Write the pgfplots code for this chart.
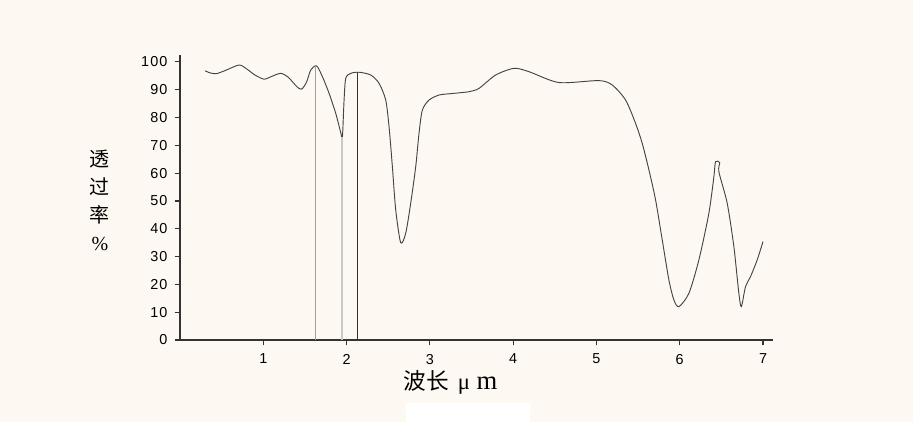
\documentclass[border=0pt]{standalone}
\usepackage{pgfplots}
\pgfplotsset{compat=1.18}
\usepackage{fontspec}
\setmainfont{Liberation Sans}
\newfontfamily\cjk{Noto Sans CJK SC}
\newfontfamily\serif{Liberation Serif}
\definecolor{bg}{HTML}{FDF8F2}
\definecolor{axc}{HTML}{333333}
\definecolor{curve}{HTML}{444444}
\begin{document}
\begin{tikzpicture}
\fill[bg] (0pt,0pt) rectangle (684.75pt,316.5pt);
\useasboundingbox (0pt,0pt) rectangle (684.75pt,316.5pt);
\fill[white] (304.5pt,0pt) rectangle (397.5pt,14.25pt);
\begin{axis}[
  at={(135pt,61.5pt)}, anchor=south west,
  scale only axis, width=444.75pt, height=213.75pt,
  xmin=0, xmax=7.12, ymin=0, ymax=102.5,
  axis lines*=left,
  axis line style={axc, line width=0.8pt},
  tick style={axc, line width=0.8pt},
  tick align=outside, major tick length=4pt,
  xtick={1,...,7}, ytick={0,10,...,100},
  /pgf/number format/assume math mode=true,
  ticklabel style={font=\fontsize{10.8}{12}\selectfont\addfontfeatures{LetterSpace=7}, text=black},
  yticklabel style={xshift=-2pt},
  xticklabel style={yshift=-3pt},
  clip=false,
]
\addplot[curve, line width=0.7pt, smooth, tension=0.45] coordinates {
(0.30,96.8)(0.37,96.0)(0.44,95.8)(0.55,97.0)(0.71,98.9)(0.80,97.5)(0.90,95.3)
(1.01,93.8)(1.10,94.8)(1.21,95.9)(1.30,94.5)(1.40,91.2)(1.46,90.2)(1.52,92.8)
(1.57,97.1)(1.64,98.6)(1.71,94.7)(1.79,88.7)(1.87,81.5)(1.93,74.6)(1.95,73.0)
(1.97,86.3)(1.99,94.1)(2.05,95.9)(2.15,96.3)(2.29,95.3)(2.39,92.3)
(2.47,86.3)(2.51,76.7)(2.55,62.3)(2.59,46.8)(2.65,35)(2.71,38.4)(2.77,49.2)
(2.83,62.3)(2.87,74.4)(2.91,82.7)(2.99,86.3)(3.11,88.1)(3.25,88.6)(3.47,89.3)(3.59,90.5)
(3.79,95.3)(4.01,97.7)(4.19,96.5)(4.55,92.6)(5.03,93.3)(5.19,91.7)(5.35,86.3)
(5.47,77.9)(5.55,70.7)(5.63,61.2)(5.71,50.4)(5.79,36.0)(5.87,21.6)(5.93,14.4)(5.99,12)
(6.11,16.8)(6.23,28.8)(6.35,45.6)(6.41,58.7)(6.43,64.1)(6.48,63.8)(6.47,60.5)
(6.57,49.2)(6.65,33.6)(6.71,16.8)(6.74,12)(6.79,19.2)(6.85,22.8)(6.93,28.8)(7.00,35.4)
};
\addplot[color={rgb,255:red,160;green,160;blue,160}, line width=1pt] coordinates {(1.63,0)(1.63,98.6)};
\addplot[color={rgb,255:red,200;green,200;blue,200}, line width=1pt] coordinates {(1.945,0)(1.945,73.0)};
\addplot[color={rgb,255:red,50;green,50;blue,50}, line width=0.8pt] coordinates {(2.13,0)(2.13,96.3)};
\node[align=center, font=\fontsize{15}{21}\selectfont, inner sep=0pt] at (axis description cs:-0.135,0.49) {{\cjk 透}\\{\cjk 过}\\{\cjk 率}\\{\serif \%}};
\node[font=\fontsize{17}{20}\selectfont, inner sep=0pt] at (axis description cs:0.456,-0.147) {{\cjk 波长}\hspace{0.4em}{\serif μ}\hspace{0.3em}{\serif\fontsize{20}{22}\selectfont m}};
\end{axis}
\end{tikzpicture}
\end{document}
